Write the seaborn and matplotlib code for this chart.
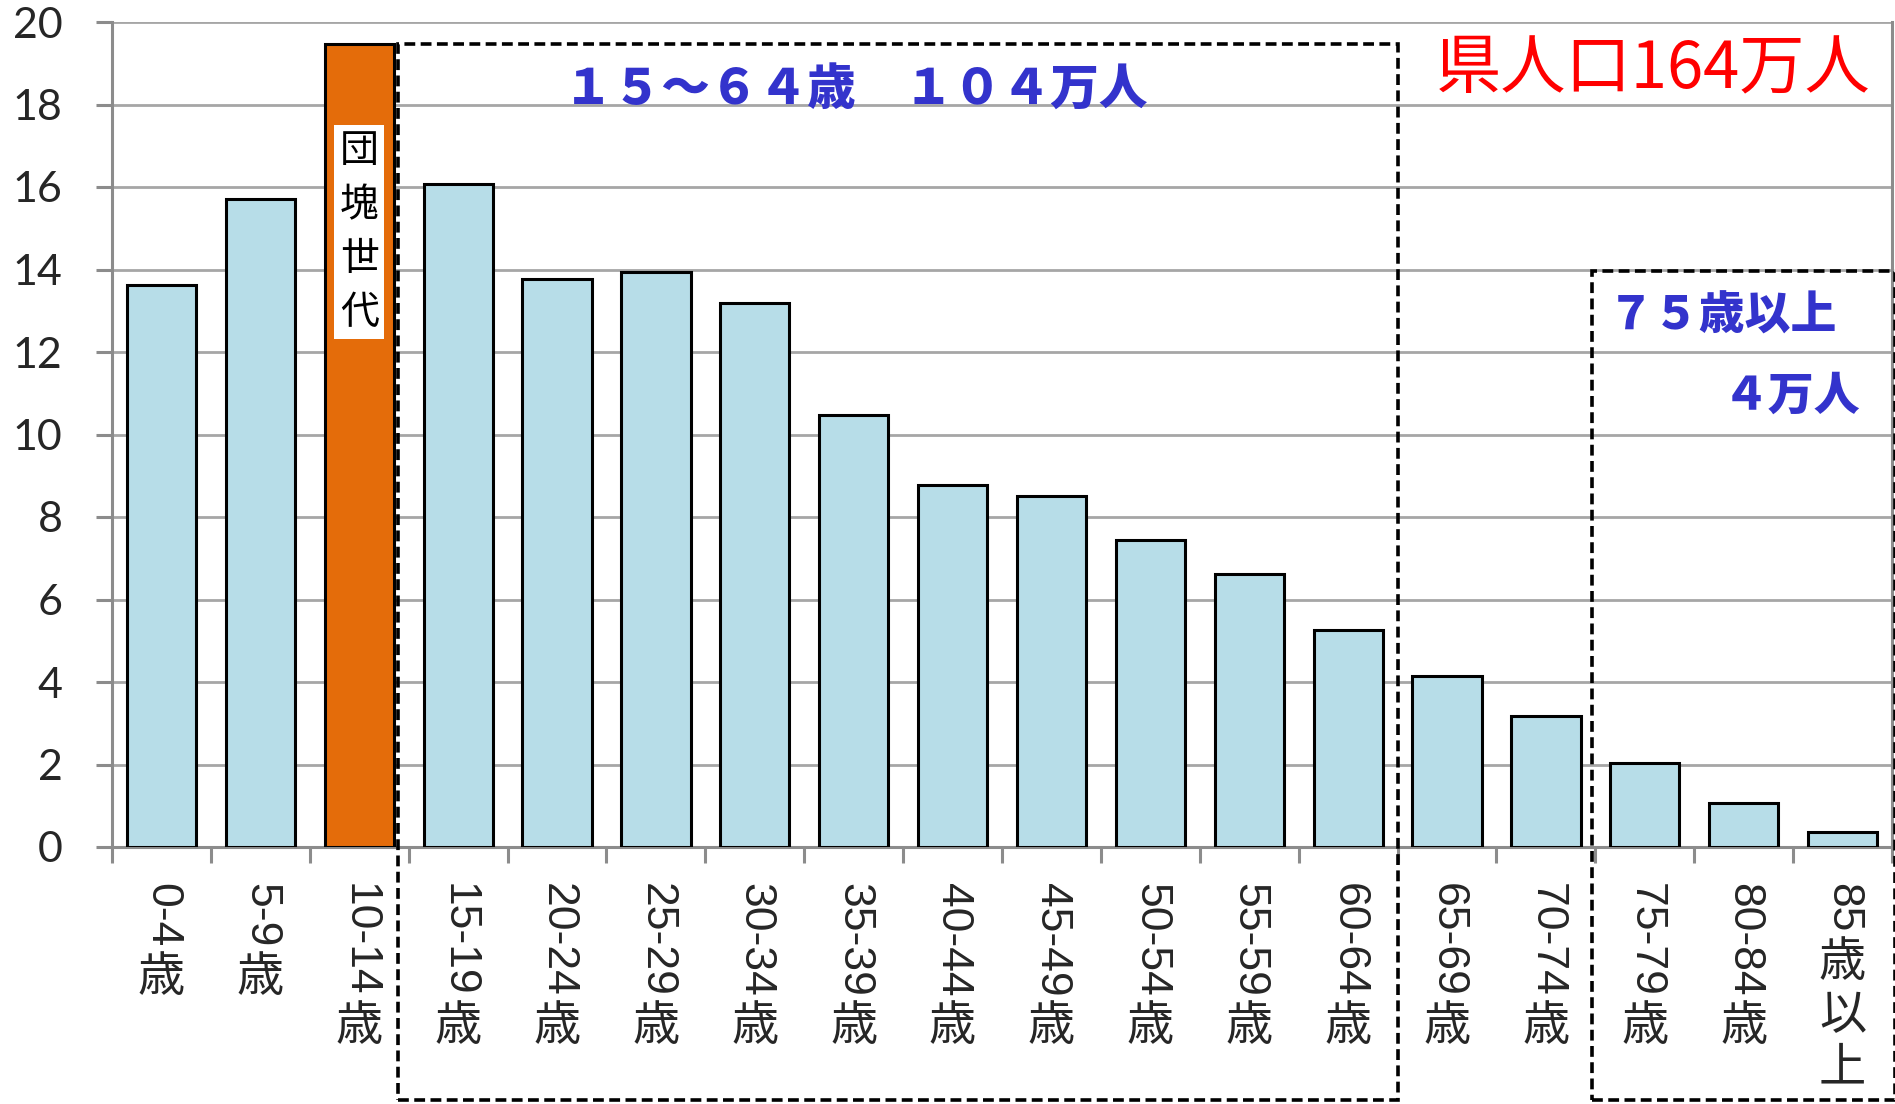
import numpy as np
import pandas as pd
import matplotlib
matplotlib.use("Agg")
import matplotlib.pyplot as plt
from matplotlib.patches import Rectangle
from matplotlib.font_manager import FontProperties
import seaborn as sns

# data (万人)
age_groups = ['0-4歳', '5-9歳', '10-14歳', '15-19歳', '20-24歳', '25-29歳',
              '30-34歳', '35-39歳', '40-44歳', '45-49歳', '50-54歳', '55-59歳',
              '60-64歳', '65-69歳', '70-74歳', '75-79歳', '80-84歳', '85歳以上']
population = [13.62, 15.70, 19.47, 16.08, 13.76, 13.94, 13.18, 10.48, 8.78,
              8.52, 7.44, 6.62, 5.27, 4.15, 3.18, 2.04, 1.07, 0.37]
highlight = '10-14歳'
y_ticks = [0, 2, 4, 6, 8, 10, 12, 14, 16, 18, 20]

blue_fill = '#B7DDE8'
orange_fill = '#E46C0A'
grid_col = '#A6A6A6'
axis_col = '#8C8C8C'
txt_blue = '#3333CC'

sns.set_style('white')
plt.rcParams['font.family'] = ['Noto Sans CJK JP', 'DejaVu Sans']

df = pd.DataFrame({'age': age_groups, 'pop': population})
colors = [orange_fill if a == highlight else blue_fill for a in age_groups]

fig = plt.figure(figsize=(18.95, 11.04), dpi=100)
ax = fig.add_axes([112 / 1895, 1 - 847 / 1104, (1892 - 112) / 1895, (847 - 22) / 1104])

sns.barplot(data=df, x='age', y='pop', hue='age', palette=colors, legend=False,
            order=age_groups, width=0.7, edgecolor='black', linewidth=2.2,
            saturation=1, ax=ax, zorder=3)

ax.set_xlim(-0.5, len(age_groups) - 0.5)
ax.set_ylim(0, 20)
ax.set_yticks(y_ticks)
ax.yaxis.grid(True, color=grid_col, linewidth=2.0)
ax.set_axisbelow(True)
ax.set_xlabel('')
ax.set_ylabel('')

for side in ['left', 'bottom', 'right']:
    ax.spines[side].set_color(axis_col)
    ax.spines[side].set_linewidth(2.2)
ax.spines['top'].set_visible(False)

ax.tick_params(axis='y', which='major', length=11.5, width=2.2, color=axis_col,
               pad=24, labelsize=31, labelfontfamily='Lato', left=True)
# x ticks at category boundaries, labels drawn by hand below
ax.set_xticks(np.arange(-0.5, len(age_groups), 1.0))
ax.set_xticklabels([])
ax.tick_params(axis='x', which='major', length=11.5, width=2.2, color=axis_col, bottom=True)

# vertical style x labels: numbers rotated, kanji upright and stacked
num_font = FontProperties(family='Liberation Sans', size=32)
kan_size = 34
kan_px = kan_size * 100 / 72
renderer = fig.canvas.get_renderer()
for i, lab in enumerate(age_groups):
    num, rest = lab.split('歳', 1)
    ax.annotate(num, xy=(i, 0), xycoords='data', xytext=(0, -36),
                textcoords='offset pixels', rotation=-90, ha='center', va='top',
                fontproperties=num_font, annotation_clip=False)
    w, h, d = renderer.get_text_width_height_descent(num, num_font, ismath=False)
    top = 36 + w + 2
    for k, ch in enumerate('歳' + rest):
        base = top + k * 53 + 0.88 * kan_px
        ax.annotate(ch, xy=(i, 0), xycoords='data', xytext=(0, -base),
                    textcoords='offset pixels', ha='center', va='baseline',
                    fontsize=kan_size, annotation_clip=False)

# dashed boxes for the age bands
ax.add_patch(Rectangle((2.39, -6.13), 12.5 - 2.39, 19.47 + 6.13, fill=False,
                       edgecolor='black', linewidth=2.6, linestyle=(0, (3, 1.5)),
                       clip_on=False, zorder=5))
ax.add_patch(Rectangle((14.47, -6.13), 17.53 - 14.47, 13.97 + 6.13, fill=False,
                       edgecolor='black', linewidth=2.6, linestyle=(0, (3, 1.5)),
                       clip_on=False, zorder=5))

ax.text(7.02, 18.33, '１５～６４歳　１０４万人', color=txt_blue, fontsize=35,
        fontweight='black', ha='center', va='center', zorder=6)
ax.text(15.08, 18.84, '県人口164万人', color='#FF0000', fontsize=47,
        ha='center', va='center', zorder=6)
ax.text(15.79, 12.87, '７５歳以上', color=txt_blue, fontsize=33,
        fontweight='black', ha='center', va='center', zorder=6)
ax.text(17.18, 10.93, '４万人', color=txt_blue, fontsize=33,
        fontweight='black', ha='right', va='center', zorder=6)
ax.text(2.0, 14.91, '団\n塊\n世\n代', color='black', fontsize=28, ha='center',
        va='center', linespacing=1.45, zorder=6,
        bbox=dict(facecolor='white', edgecolor='none', boxstyle='square,pad=0.15'))

fig.savefig('out.png', dpi=100)
